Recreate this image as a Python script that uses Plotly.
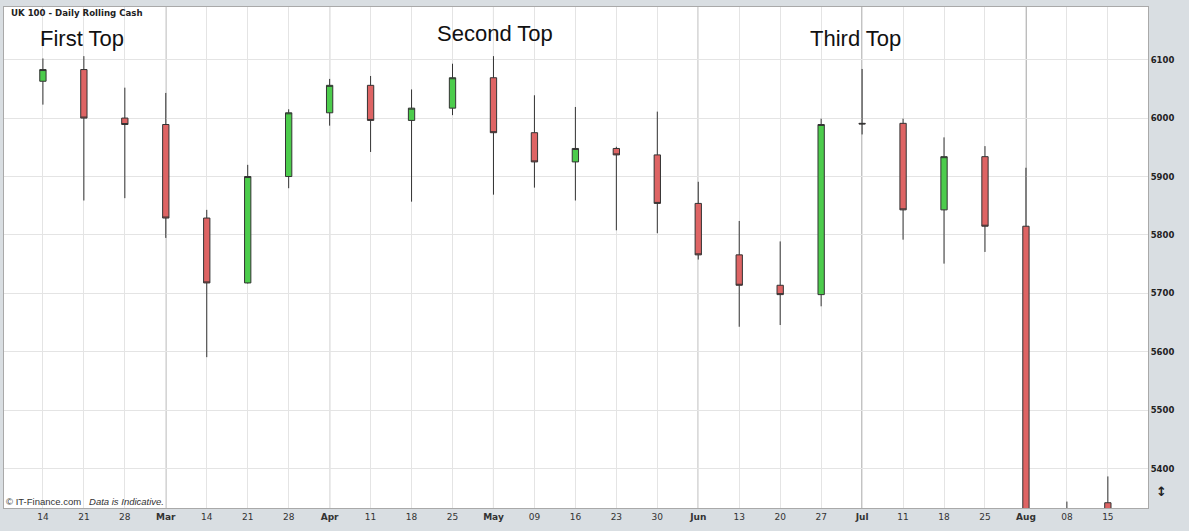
import plotly.graph_objects as go

# ---------------- data ----------------
dates = ["2011-02-14", "2011-02-21", "2011-02-28", "2011-03-07", "2011-03-14", "2011-03-21",
         "2011-03-28", "2011-04-04", "2011-04-11", "2011-04-18", "2011-04-25", "2011-05-02",
         "2011-05-09", "2011-05-16", "2011-05-23", "2011-05-30", "2011-06-06", "2011-06-13",
         "2011-06-20", "2011-06-27", "2011-07-04", "2011-07-11", "2011-07-18", "2011-07-25",
         "2011-08-01", "2011-08-08", "2011-08-15"]
tick_labels = ["14", "21", "28", "Mar", "14", "21", "28", "Apr", "11", "18", "25", "May",
               "09", "16", "23", "30", "Jun", "13", "20", "27", "Jul", "11", "18", "25",
               "Aug", "08", "15"]
opens = [6063, 6083, 6000, 5989, 5829, 5718, 5900, 6009, 6056, 5996, 6017, 6069, 5975, 5925,
         5948, 5937, 5854, 5766, 5714, 5698, 5991, 5991, 5843, 5934, 5815, 5247, 5342]
highs = [6102, 6106, 6052, 6043, 5843, 5920, 6015, 6067, 6072, 6049, 6093, 6106, 6039, 6019,
         5951, 6011, 5891, 5824, 5789, 5999, 6084, 5999, 5967, 5952, 5915, 5344, 5387]
lows = [6023, 5859, 5863, 5795, 5591, 5717, 5880, 5987, 5942, 5857, 6005, 5869, 5881, 5859,
        5808, 5803, 5758, 5643, 5646, 5678, 5972, 5792, 5751, 5771, 5071, 4791, 4990]
closes = [6083, 6000, 5989, 5829, 5718, 5900, 6009, 6056, 5996, 6017, 6069, 5975, 5925, 5948,
          5937, 5854, 5766, 5714, 5698, 5989, 5990, 5843, 5934, 5815, 5247, 5320, 5040]
month_labels = ["Mar", "Apr", "May", "Jun", "Jul", "Aug"]
y_ticks = [5400, 5500, 5600, 5700, 5800, 5900, 6000, 6100]
tops = [("First Top", 0.068, 0.938), ("Second Top", 0.429, 0.948), ("Third Top", 0.744, 0.938)]

# ---------------- figure ----------------
fig = go.Figure()
fig.add_trace(go.Candlestick(
    x=dates, open=opens, high=highs, low=lows, close=closes,
    increasing=dict(fillcolor="#4ccc4c", line=dict(color="#333333", width=1)),
    decreasing=dict(fillcolor="#de6464", line=dict(color="#333333", width=1)),
    whiskerwidth=0, showlegend=False, hoverinfo="x+y",
))

ticktext = [f"<b>{t}</b>" if t in month_labels else t for t in tick_labels]

# month separators
for d, t in zip(dates, tick_labels):
    if t in month_labels:
        fig.add_shape(type="line", xref="x", yref="paper", x0=d, x1=d, y0=0, y1=1,
                      line=dict(color="#6a6a6a", width=1), layer="between")

fig.update_layout(
    width=1189, height=531,
    margin=dict(l=4, r=41, t=7, b=23),
    paper_bgcolor="#d9dee2",
    plot_bgcolor="#ffffff",
    boxgap=0.78,
    font=dict(family="DejaVu Sans", color="#222222"),
    xaxis=dict(
        type="category", categoryorder="array", categoryarray=dates,
        range=[-0.95, 26.98], rangeslider=dict(visible=False),
        tickvals=dates, ticktext=ticktext, ticks="",
        tickfont=dict(family="DejaVu Sans", size=9, color="#333333"),
        showgrid=True, gridcolor="#e4e4e4", gridwidth=1,
        showline=True, linecolor="#a9a9a9", mirror=True, zeroline=False,
    ),
    yaxis=dict(
        side="right", range=[5333, 6190], tickvals=y_ticks, ticks="",
        tickfont=dict(family="DejaVu Sans", size=8.5, color="#222222", weight="bold"),
        showgrid=True, gridcolor="#e4e4e4", gridwidth=1,
        showline=True, linecolor="#a9a9a9", mirror=True, zeroline=False,
    ),
)

annotations = [
    dict(text="<b>UK 100 - Daily Rolling Cash</b>", xref="paper", yref="paper",
         x=0.004, y=0.988, xanchor="left", yanchor="middle", showarrow=False,
         font=dict(family="DejaVu Sans", size=8.6, color="#222222")),
    dict(text="© IT-Finance.com   <i>Data is Indicative.</i>", xref="paper", yref="paper",
         x=0.0, y=0.012, xanchor="left", yanchor="middle", showarrow=False,
         font=dict(family="Liberation Sans", size=9.5, color="#333333")),
    dict(text="<b>↕</b>", xref="paper", yref="paper", x=1.0114, y=0.032,
         xanchor="center", yanchor="middle", showarrow=False,
         font=dict(family="DejaVu Sans", size=13, color="#222222")),
]
for txt, px, py in tops:
    annotations.append(dict(text=txt, xref="paper", yref="paper", x=px, y=py,
                            xanchor="center", yanchor="middle", showarrow=False,
                            font=dict(family="Liberation Sans", size=22, color="#111111")))
fig.update_layout(annotations=annotations)

fig.write_html("out.html", config={"displayModeBar": False},
               post_script="document.body.style.margin='0';document.body.style.overflow='hidden';")
